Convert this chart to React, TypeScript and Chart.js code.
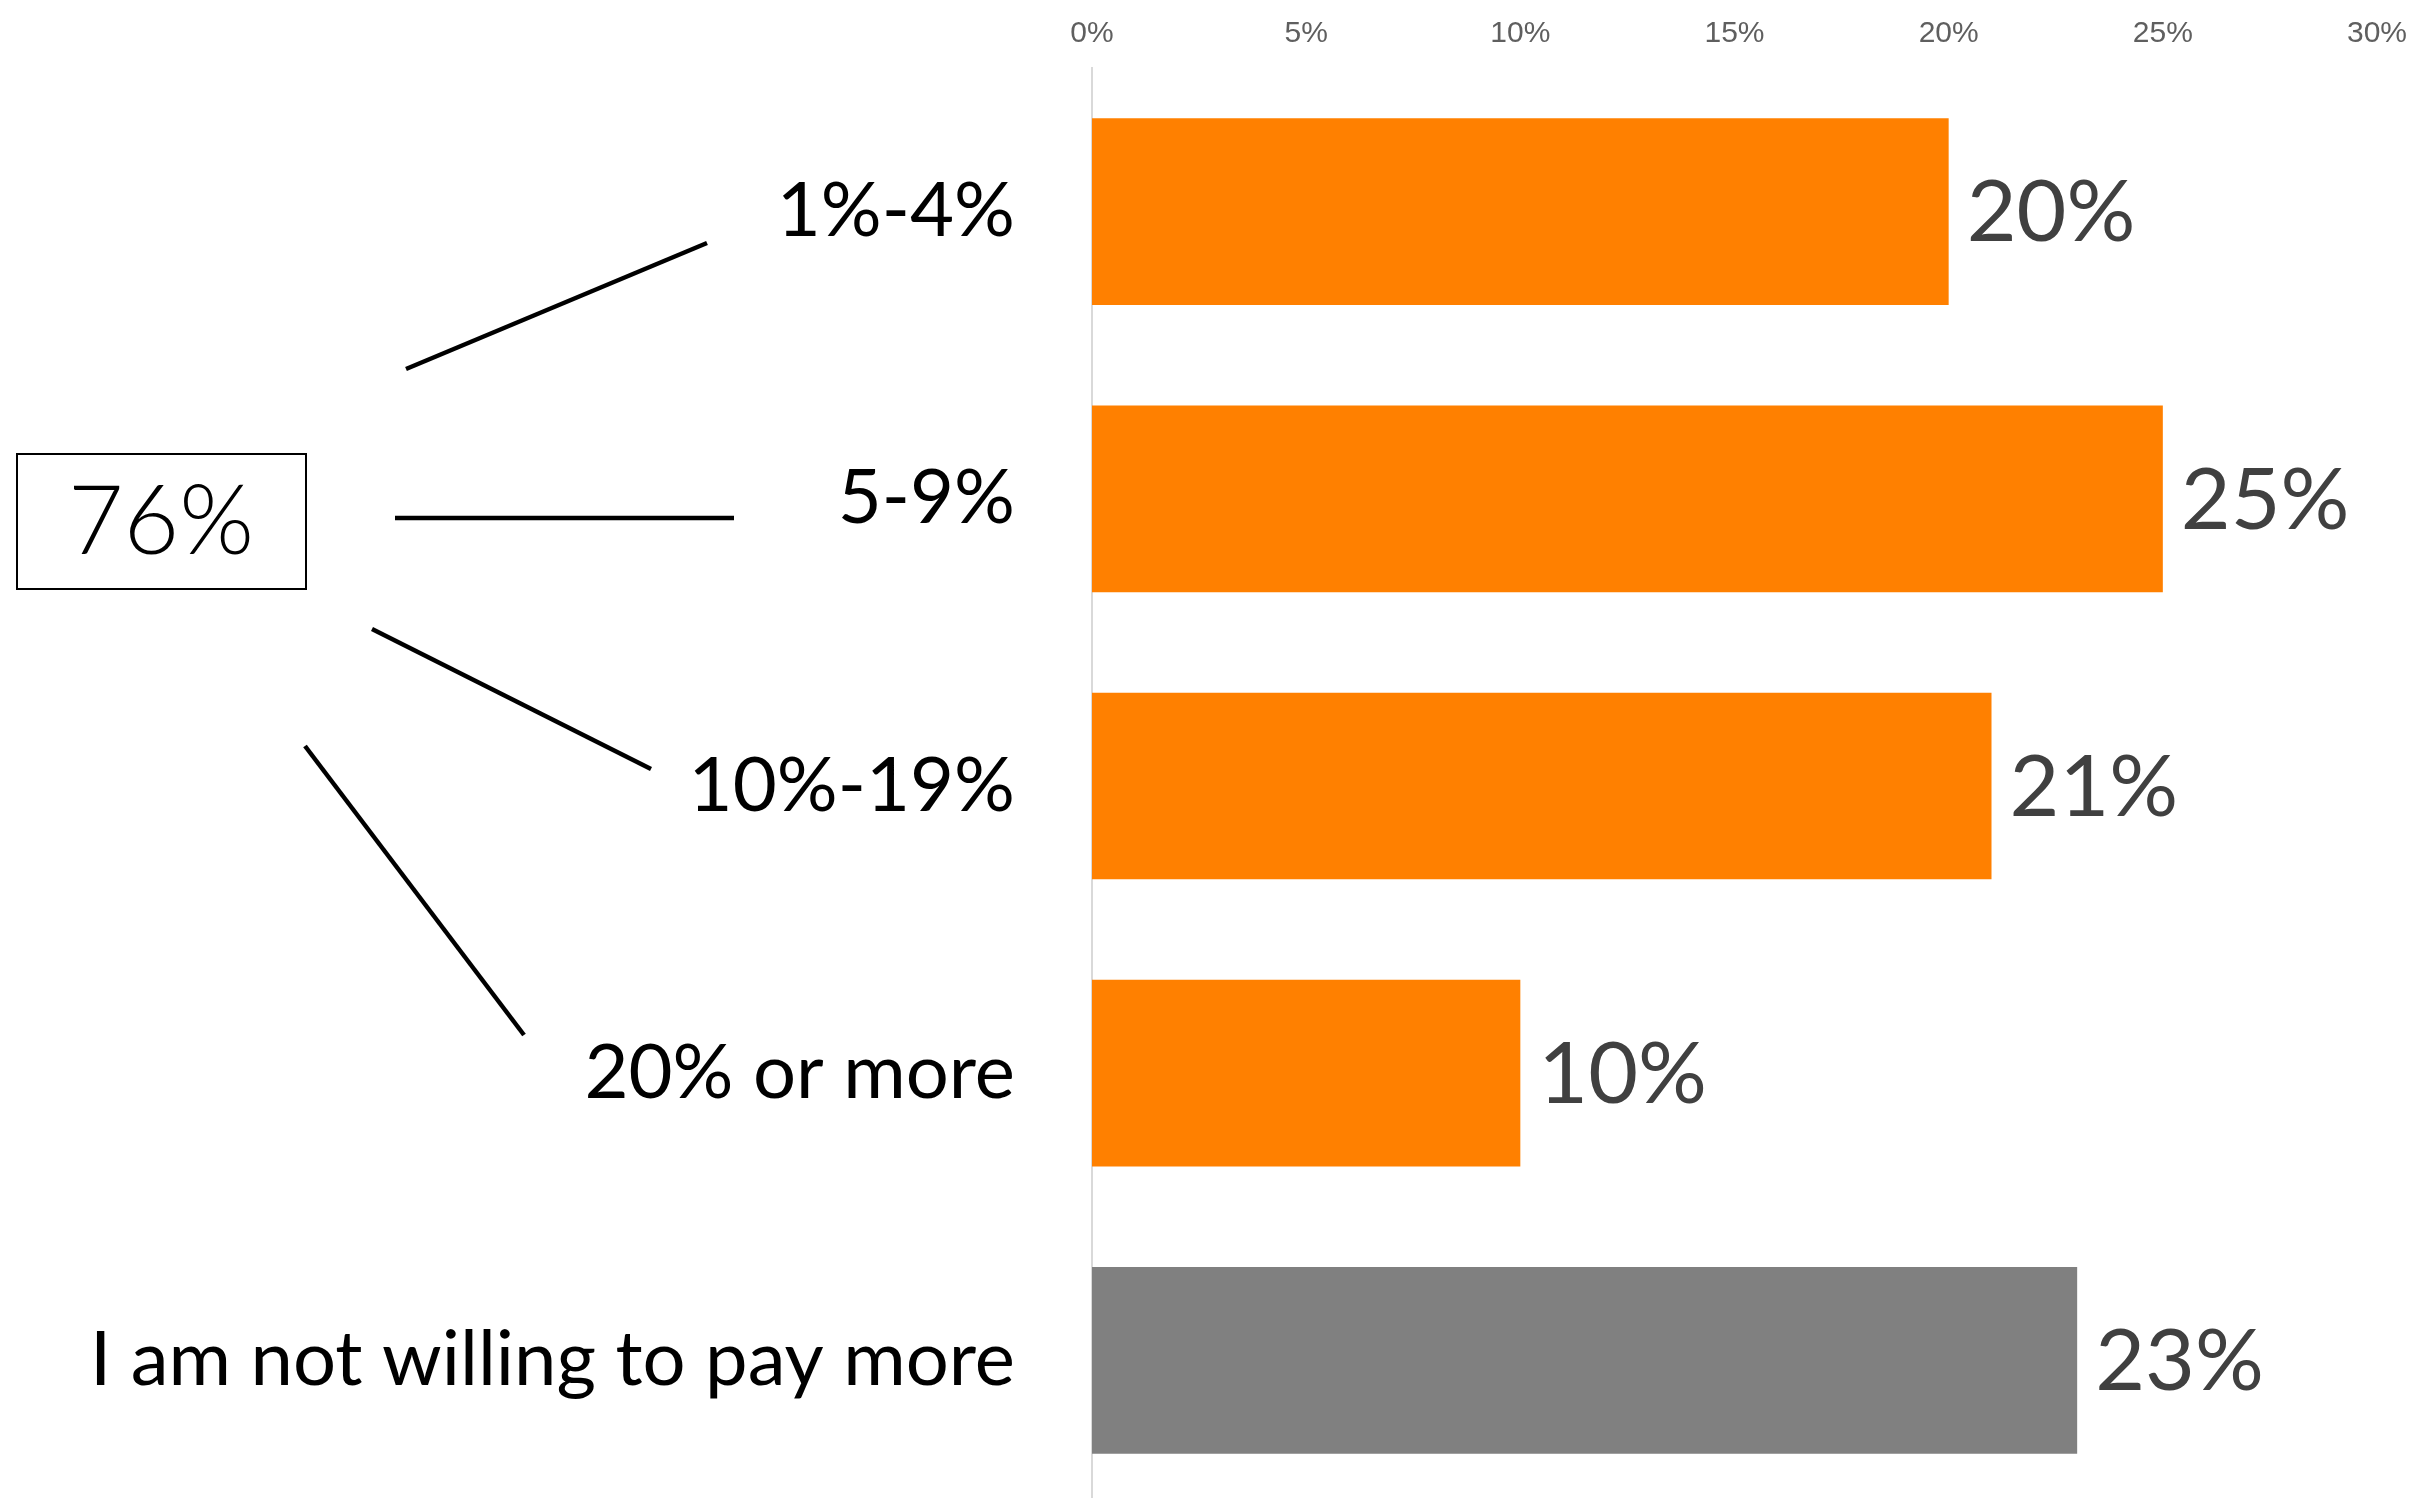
import { useEffect, useRef } from "react";
import { Chart, registerables } from "chart.js";

Chart.register(...registerables);

const categories = ["1%-4%", "5-9%", "10%-19%", "20% or more", "I am not willing to pay more"];
const values = [20, 25, 21, 10, 23];
const barColors = ["#FF8000", "#FF8000", "#FF8000", "#FF8000", "#808080"];
const willingIndices = [0, 1, 2, 3];
const xMin = 0;
const xMax = 30;
const xStep = 5;

const W = 2412;
const H = 1498;
const CANVAS_H = 1504;

export default function App() {
  const ref = useRef<HTMLCanvasElement>(null);

  useEffect(() => {
    const canvas = ref.current;
    if (!canvas) return;

    const total = willingIndices.reduce((s, i) => s + values[i], 0);

    const valueLabels = {
      id: "valueLabels",
      afterDatasetsDraw(chart: any) {
        const ctx = chart.ctx;
        const meta = chart.getDatasetMeta(0);
        ctx.save();
        ctx.font = "86px Lato";
        ctx.fillStyle = "#404040";
        ctx.textBaseline = "middle";
        ctx.textAlign = "left";
        meta.data.forEach((bar: any, i: number) => {
          ctx.fillText(values[i] + "%", bar.x + 18, bar.y + 2);
        });
        ctx.restore();
      },
    };

    const annotations = {
      id: "annotations",
      afterDraw(chart: any) {
        const ctx = chart.ctx;
        ctx.save();
        ctx.strokeStyle = "#000";
        ctx.lineWidth = 2;
        ctx.strokeRect(17, 454, 289, 135);
        ctx.font = "300 96px Lato";
        ctx.fillStyle = "#000";
        ctx.textAlign = "center";
        ctx.textBaseline = "middle";
        ctx.fillText(total + "%", 161, 523);
        ctx.lineWidth = 4.5;
        ctx.lineCap = "butt";
        const segs = [
          [406, 369, 707, 243],
          [395, 518, 734, 518],
          [372, 629, 651, 769],
          [305, 746, 524, 1035],
        ];
        segs.forEach(([x1, y1, x2, y2]) => {
          ctx.beginPath();
          ctx.moveTo(x1, y1);
          ctx.lineTo(x2, y2);
          ctx.stroke();
        });
        ctx.restore();
      },
    };

    const chart = new Chart(canvas, {
      type: "bar",
      data: {
        labels: categories,
        datasets: [
          {
            data: values,
            backgroundColor: barColors,
            borderWidth: 0,
            barPercentage: 0.65,
            categoryPercentage: 1,
          },
        ],
      },
      options: {
        indexAxis: "y",
        responsive: false,
        animation: false,
        devicePixelRatio: 1,
        layout: { padding: { left: 0, right: 35, top: 0, bottom: 0 } },
        plugins: {
          legend: { display: false },
          tooltip: { enabled: false },
        },
        scales: {
          x: {
            position: "top",
            min: xMin,
            max: xMax,
            ticks: {
              stepSize: xStep,
              callback: (v: any) => v + "%",
              font: { family: "Liberation Sans", size: 30 },
              color: "#5f5f5f",
              padding: 16,
            },
            grid: { display: false, drawTicks: false },
            border: { display: false },
            afterFit: (s: any) => {
              s.height = 68;
              s.paddingLeft = 0;
              s.paddingRight = 0;
            },
          },
          y: {
            ticks: {
              font: { family: "Lato", size: 76 },
              color: "#000",
              padding: 77,
            },
            grid: { display: false, drawTicks: false },
            border: { display: true, color: "#d9d9d9", width: 2 },
            afterFit: (s: any) => {
              s.width = 1092;
              s.paddingTop = 0;
              s.paddingBottom = 0;
            },
          },
        },
      },
      plugins: [valueLabels, annotations],
    });

    return () => chart.destroy();
  }, []);

  return (
    <div style={{ position: "absolute", left: 0, top: 0, width: W, height: H, overflow: "hidden", background: "#fff" }}>
      <canvas ref={ref} width={W} height={CANVAS_H} style={{ width: W, height: CANVAS_H, display: "block" }} />
    </div>
  );
}
